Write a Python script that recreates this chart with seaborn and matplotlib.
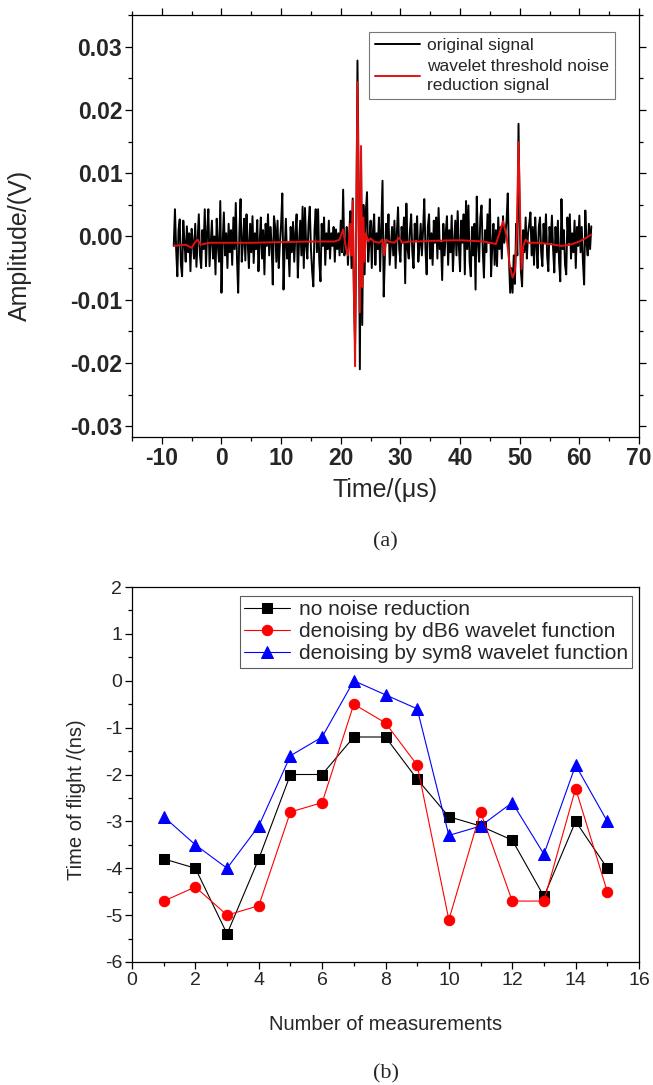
import numpy as np
import pandas as pd
import matplotlib
matplotlib.use("Agg")
import matplotlib.pyplot as plt
import seaborn as sns
from matplotlib.ticker import MultipleLocator, FormatStrFormatter

sns.set_theme(style="ticks")
plt.rcParams['font.family'] = ['Liberation Sans', 'DejaVu Sans']
plt.rcParams['axes.unicode_minus'] = False

# ---------------- (a) signal data (mV), sampled every 0.2 us from -8 us ----------------
original_mV = [
    -1.5, 4.3, -2.0, -6.3, 1.0, 2.7, -4.5, -6.3, 2.5, -1.0,
    -4.0, 1.6, -2.5, 0.5, -5.5, 1.2, -1.0, -3.5, 2.0, -4.8,
    -0.5, 3.5, -3.0, -5.0, 1.0, -2.0, 4.3, -4.7, 0.5, 4.3,
    -4.7, -1.0, 2.5, -3.5, 0.0, -6.0, 2.8, -1.5, -4.0, 5.6,
    -8.9, -1.0, 3.8, -3.0, 0.5, -5.0, 2.0, -2.5, 1.0, -4.5,
    3.0, -2.0, 5.3, -3.5, -8.9, 0.5, 5.9, -4.0, -1.0, 2.8,
    -3.8, 3.5, -1.0, -5.0, 2.0, -2.5, 3.2, -4.2, 0.5, -2.0,
    2.6, -5.5, -1.0, 3.0, -3.5, 1.0, -6.0, 2.0, -1.5, 3.5,
    -3.0, 1.5, -1.0, -7.6, 3.2, 1.5, -4.0, 2.5, -5.0, -1.0,
    2.0, 6.8, -8.4, -2.0, 2.8, -3.5, -1.0, -6.3, 1.5, -2.5,
    2.3, -4.0, 0.5, 3.5, -6.5, -1.0, 2.5, -3.0, 4.7, -5.0,
    4.5, -1.5, -3.5, 2.0, 4.7, -2.0, -5.5, -7.9, 1.0, 4.3,
    -2.5, 4.3, -4.0, -7.1, 2.0, -1.5, 3.0, -4.5, 0.5, -2.0,
    2.5, -3.5, 0.5, -1.5, 1.5, -4.0, 1.1, -2.0, 0.5, -3.0,
    2.5, -2.5, 7.4, -3.0, -2.0, 1.5, -4.5, 0.0, 4.0, -5.0,
    6.0, -9.0, -17.0, 0.0, 27.8, 8.0, -21.0, 12.0, -14.0, 5.0,
    -6.0, 4.0, 7.0, -4.0, -1.0, 2.5, -5.0, 1.0, 3.5, -4.5,
    0.5, -2.0, 3.0, -5.5, 1.5, 8.8, -9.5, -3.0, 2.0, -1.0,
    3.5, -4.5, -1.5, 1.5, -3.0, 2.5, -5.0, 0.5, 4.6, -2.0,
    -4.0, 1.5, -1.0, 3.0, -7.4, 5.2, -2.0, -3.5, 1.0, 3.5,
    -2.5, -5.0, 2.0, -0.5, 3.2, -4.0, -1.5, 2.0, -3.0, 1.0,
    5.9, -2.0, -6.0, 1.5, 3.5, -3.5, 0.5, -4.5, 2.5, -1.0,
    3.0, -3.5, 4.5, -2.0, -1.0, -6.9, 2.0, -3.0, 0.5, 3.2,
    -4.5, 1.0, -2.5, 3.3, -5.5, -1.0, 2.5, -3.0, 4.0, -1.5,
    -5.5, 2.5, -1.0, 3.5, -6.0, 5.6, -2.0, 4.9, -4.0, -6.3,
    1.5, -3.0, 2.0, -8.4, 6.3, -1.0, -4.0, 3.0, 4.9, -2.0,
    -6.5, 1.0, -2.5, 3.5, -1.0, 5.9, -6.3, -1.5, 2.0, -4.5,
    1.0, -4.7, 3.0, -2.0, 1.5, -3.5, 3.2, -1.0, 0.5, 2.5,
    6.8, -3.5, -8.9, -5.0, -8.9, -3.0, -7.5, 2.0, -3.0, 17.8,
    3.0, -5.5, -7.9, 1.0, -2.5, 3.0, -3.5, 0.5, 2.0, 3.8,
    -3.0, 1.5, -4.5, 3.0, -1.5, -5.0, 1.5, 3.0, -2.5, -4.7,
    2.0, -1.0, 3.5, -3.0, -5.5, 1.5, -1.0, 3.3, -2.0, -5.7,
    1.5, -2.5, 2.5, -4.0, -7.1, 5.9, -2.0, 1.0, -4.5, -6.0,
    3.0, -1.0, 3.5, -3.5, 0.5, -2.5, 2.5, -5.0, 1.5, -1.5,
    3.3, -2.5, 1.5, -4.0, -7.6, 4.1, -1.0, -3.0, 2.0, -2.0,
    1.6,
]
t_original = np.round(np.linspace(-8.0, 62.0, len(original_mV)), 2)

t_denoised = [-8.0, -6.0, -5.0, -4.5, -4.0, -3.5, -2.0, 5.0, 15.0, 19.0, 19.8, 20.4,
              20.8, 21.2, 21.6, 21.8, 22.0, 22.2, 22.4, 22.6, 22.8, 23.0, 23.2, 23.4,
              23.6, 23.8, 24.0, 24.2, 24.6, 25.0, 25.5, 26.5, 27.0, 27.3, 27.6, 28.0,
              29.0, 29.8, 30.3, 31.5, 33.0, 35.0, 40.0, 44.0, 46.0, 46.6, 47.2, 47.8,
              48.3, 48.8, 49.2, 49.5, 49.8, 50.1, 50.3, 50.6, 51.0, 51.5, 53.0, 55.0,
              57.0, 58.5, 60.0, 61.0, 62.0]
denoised_mV = [-1.5, -1.3, -1.8, -1.0, -0.5, -1.3, -1.0, -1.0, -0.8, -0.8, -0.5, 1.1,
               -1.5, -3.0, 2.0, -3.0, 5.6, -8.0, -20.5, 2.0, 24.4, 5.0, -12.0, 14.3,
               -8.0, 3.0, -4.0, 0.5, -0.8, -0.3, -0.8, -1.0, -0.5, -3.0, -0.5, -0.8,
               -1.0, -0.2, -1.0, -0.8, -0.8, -0.7, -0.6, -0.8, -1.2, 0.5, 2.4, 0.0,
               -4.5, -6.5, -5.5, 0.0, 14.9, 2.0, -5.2, -1.5, -0.5, -1.0, -1.0, -1.2,
               -1.5, -1.3, -0.8, -0.3, 0.3]

# ---------------- (b) time of flight data ----------------
measurements = list(range(1, 16))
no_reduction = [-3.8, -4.0, -5.4, -3.8, -2.0, -2.0, -1.2, -1.2, -2.1, -2.9, -3.1, -3.4, -4.6, -3.0, -4.0]
db6_denoised = [-4.7, -4.4, -5.0, -4.8, -2.8, -2.6, -0.5, -0.9, -1.8, -5.1, -2.8, -4.7, -4.7, -2.3, -4.5]
sym8_denoised = [-2.9, -3.5, -4.0, -3.1, -1.6, -1.2, 0.0, -0.3, -0.6, -3.3, -3.1, -2.6, -3.7, -1.8, -3.0]

W, H = 653, 1085
fig = plt.figure(figsize=(W / 100, H / 100), dpi=100)

def px_axes(l, r, t, b):
    return fig.add_axes([l / W, 1 - b / H, (r - l) / W, (b - t) / H])

# ---------- panel (a) ----------
A_TOP, A_BOT = 15, 437
ax1 = px_axes(132, 639, A_TOP, A_BOT)
df_o = pd.DataFrame({"t": t_original, "a": np.array(original_mV) / 1000.0})
df_d = pd.DataFrame({"t": t_denoised, "a": np.array(denoised_mV) / 1000.0})
sns.lineplot(data=df_o, x="t", y="a", color="black", linewidth=1.4, ax=ax1,
             label="original signal", sort=False)
sns.lineplot(data=df_d, x="t", y="a", color="#e41010", linewidth=1.4, ax=ax1,
             label="wavelet threshold noise\nreduction signal", sort=False)
ax1.set_xlim(-15, 70)
ax1.set_ylim(-0.0317, 0.035)
ax1.xaxis.set_major_locator(MultipleLocator(10))
ax1.xaxis.set_minor_locator(MultipleLocator(5))
ax1.yaxis.set_major_locator(MultipleLocator(0.01))
ax1.yaxis.set_minor_locator(MultipleLocator(0.005))
ax1.yaxis.set_major_formatter(FormatStrFormatter("%.2f"))
ax1.tick_params(which="both", direction="out", top=True, right=True, width=0.9, color="black")
ax1.tick_params(which="major", length=5, pad=2)
ax1.tick_params(which="minor", length=3)
for lab in ax1.get_xticklabels() + ax1.get_yticklabels():
    lab.set_fontweight("bold")
    lab.set_fontsize(16.5)
ax1.set_xlabel("Time/(\u03bcs)", fontsize=18, va="center")
ax1.xaxis.set_label_coords(0.5, -(490 - A_BOT) / (A_BOT - A_TOP))
ax1.set_ylabel("Amplitude/(V)", fontsize=18, va="center")
ax1.yaxis.set_label_coords((20 - 132) / 507, (A_BOT - 245) / (A_BOT - A_TOP))
for s in ax1.spines.values():
    s.set_linewidth(0.9)
    s.set_color("black")
leg1 = ax1.legend(loc="upper right", bbox_to_anchor=(0.953, (A_BOT - 32) / (A_BOT - A_TOP)),
                  borderaxespad=0, fontsize=12.5, frameon=True, fancybox=False,
                  handlelength=2.6, handletextpad=0.4, labelspacing=0.35, borderpad=0.35)
for txt in leg1.get_texts():
    txt.set_linespacing(1.3)
leg1.get_frame().set_edgecolor("#555555")
leg1.get_frame().set_linewidth(0.8)
fig.text((132 + 639) / 2 / W, 1 - 542 / H, "(a)", ha="center", va="center",
         fontsize=16, family="Liberation Serif")

# ---------- panel (b) ----------
ax2 = px_axes(132, 639, 587, 962)
sns.lineplot(x=measurements, y=no_reduction, color="black", marker="s", markersize=6.5,
             markeredgecolor="black", linewidth=0.8, ax=ax2, label="no noise reduction")
sns.lineplot(x=measurements, y=db6_denoised, color="red", marker="o", markersize=7.5,
             markeredgecolor="red", linewidth=0.8, ax=ax2,
             label="denoising by dB6 wavelet function")
sns.lineplot(x=measurements, y=sym8_denoised, color="blue", marker="^", markersize=8,
             markeredgecolor="blue", linewidth=0.8, ax=ax2,
             label="denoising by sym8 wavelet function")
ax2.set_xlim(0, 16)
ax2.set_ylim(-6, 2)
ax2.xaxis.set_major_locator(MultipleLocator(2))
ax2.xaxis.set_minor_locator(MultipleLocator(1))
ax2.yaxis.set_major_locator(MultipleLocator(1))
ax2.yaxis.set_minor_locator(MultipleLocator(0.5))
ax2.tick_params(which="both", direction="out", width=0.9, color="black", labelsize=14)
ax2.tick_params(which="major", length=5, pad=2)
ax2.tick_params(which="minor", length=3)
ax2.set_xlabel("Number of measurements", fontsize=14.5, va="center")
ax2.xaxis.set_label_coords(0.5, (962 - 1025) / 375)
ax2.set_ylabel("Time of flight /(ns)", fontsize=14.5, va="center")
ax2.yaxis.set_label_coords((76 - 132) / 507, (962 - 800) / 375)
for s in ax2.spines.values():
    s.set_linewidth(0.9)
    s.set_color("black")
leg2 = ax2.legend(loc="upper right", bbox_to_anchor=(0.986, 0.976), borderaxespad=0,
                  fontsize=15, frameon=True, fancybox=False, handlelength=2.2,
                  handletextpad=0.4, labelspacing=0.15, borderpad=0.2)
leg2.get_frame().set_edgecolor("#333333")
leg2.get_frame().set_linewidth(0.8)
fig.text((132 + 639) / 2 / W, 1 - 1074 / H, "(b)", ha="center", va="center",
         fontsize=16, family="Liberation Serif")

fig.savefig("out.png", dpi=100, facecolor="white")
